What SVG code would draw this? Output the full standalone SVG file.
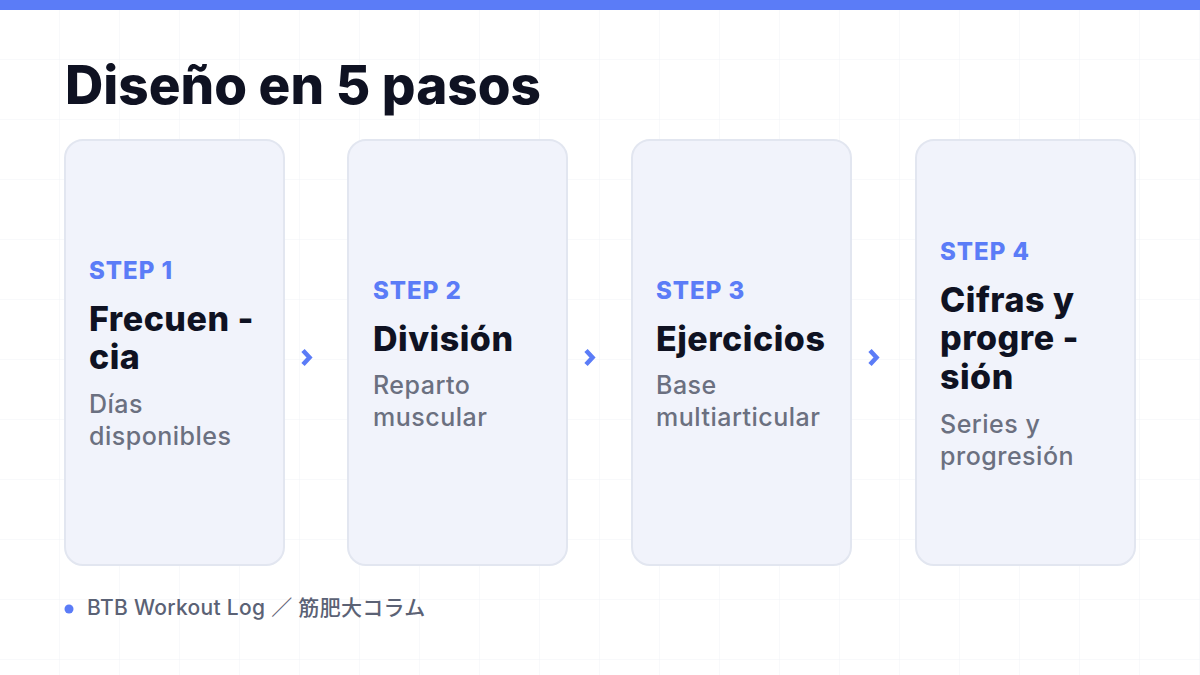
<svg xmlns="http://www.w3.org/2000/svg" width="1200" height="675" viewBox="0 0 1200 675">
<defs>
<pattern id="grid" width="60" height="60" patternUnits="userSpaceOnUse">
<path d="M60 0 V60 M0 60 H60" fill="none" stroke="#f1f3f7" stroke-width="1"/>
</pattern>
<style>
.card{fill:#f1f3fb;stroke:#e2e6f0;stroke-width:2}
.step{font-family:Inter,"Liberation Sans",sans-serif;font-weight:800;font-size:24px;fill:#5b7cf7;letter-spacing:1px}
.ttl{font-family:Inter,"Liberation Sans",sans-serif;font-weight:800;font-size:34px;fill:#0f1222;letter-spacing:0.5px}
.sub{font-family:Inter,"Liberation Sans",sans-serif;font-weight:500;font-size:25px;fill:#6b7080;letter-spacing:0.5px}
.chev{fill:none;stroke:#5b7cf7;stroke-width:4.5;stroke-linejoin:miter;stroke-linecap:butt}
</style>
</defs>
<rect width="1200" height="675" fill="#ffffff"/>
<rect width="1200" height="675" fill="url(#grid)"/>
<rect x="0" y="0" width="1200" height="10" fill="#5b7cf7"/>
<text x="65" y="104" font-family="Inter, 'Liberation Sans', sans-serif" font-weight="800" font-size="53" fill="#0f1222">Diseño en 5 pasos</text>

<g id="step1">
<rect class="card" x="65" y="140" width="219" height="425" rx="18"/>
<text class="step" x="89" y="279">STEP 1</text>
<text class="ttl" x="89" y="331">Frecuen -</text>
<text class="ttl" x="89" y="369">cia</text>
<text class="sub" x="89" y="413">Días</text>
<text class="sub" x="89" y="445">disponibles</text>
</g>
<g id="step2">
<rect class="card" x="348" y="140" width="219" height="425" rx="18"/>
<text class="step" x="373" y="299">STEP 2</text>
<text class="ttl" x="373" y="351">División</text>
<text class="sub" x="373" y="394">Reparto</text>
<text class="sub" x="373" y="426">muscular</text>
</g>
<g id="step3">
<rect class="card" x="632" y="140" width="219" height="425" rx="18"/>
<text class="step" x="656" y="299">STEP 3</text>
<text class="ttl" x="656" y="351">Ejercicios</text>
<text class="sub" x="656" y="394">Base</text>
<text class="sub" x="656" y="426">multiarticular</text>
</g>
<g id="step4">
<rect class="card" x="916" y="140" width="219" height="425" rx="18"/>
<text class="step" x="940" y="259.5">STEP 4</text>
<text class="ttl" x="940" y="311.5">Cifras y</text>
<text class="ttl" x="940" y="350">progre -</text>
<text class="ttl" x="940" y="389">sión</text>
<text class="sub" x="940" y="433">Series y</text>
<text class="sub" x="940" y="465">progresión</text>
</g>
<g id="connectors">
<path class="chev" d="M303 350.5 L309.5 357.5 L303 364.5"/>
<path class="chev" d="M586 350.5 L592.5 357.5 L586 364.5"/>
<path class="chev" d="M870 350.5 L876.5 357.5 L870 364.5"/>
</g>
<g id="footer">
<circle cx="69" cy="609" r="4.5" fill="#5b7cf7"/>
<text x="87" y="615" font-family="Inter, 'Noto Sans CJK JP', sans-serif" font-weight="500" font-size="21" letter-spacing="0.3" fill="#5b6275">BTB Workout Log ／ 筋肥大コラム</text>
</g>
</svg>
